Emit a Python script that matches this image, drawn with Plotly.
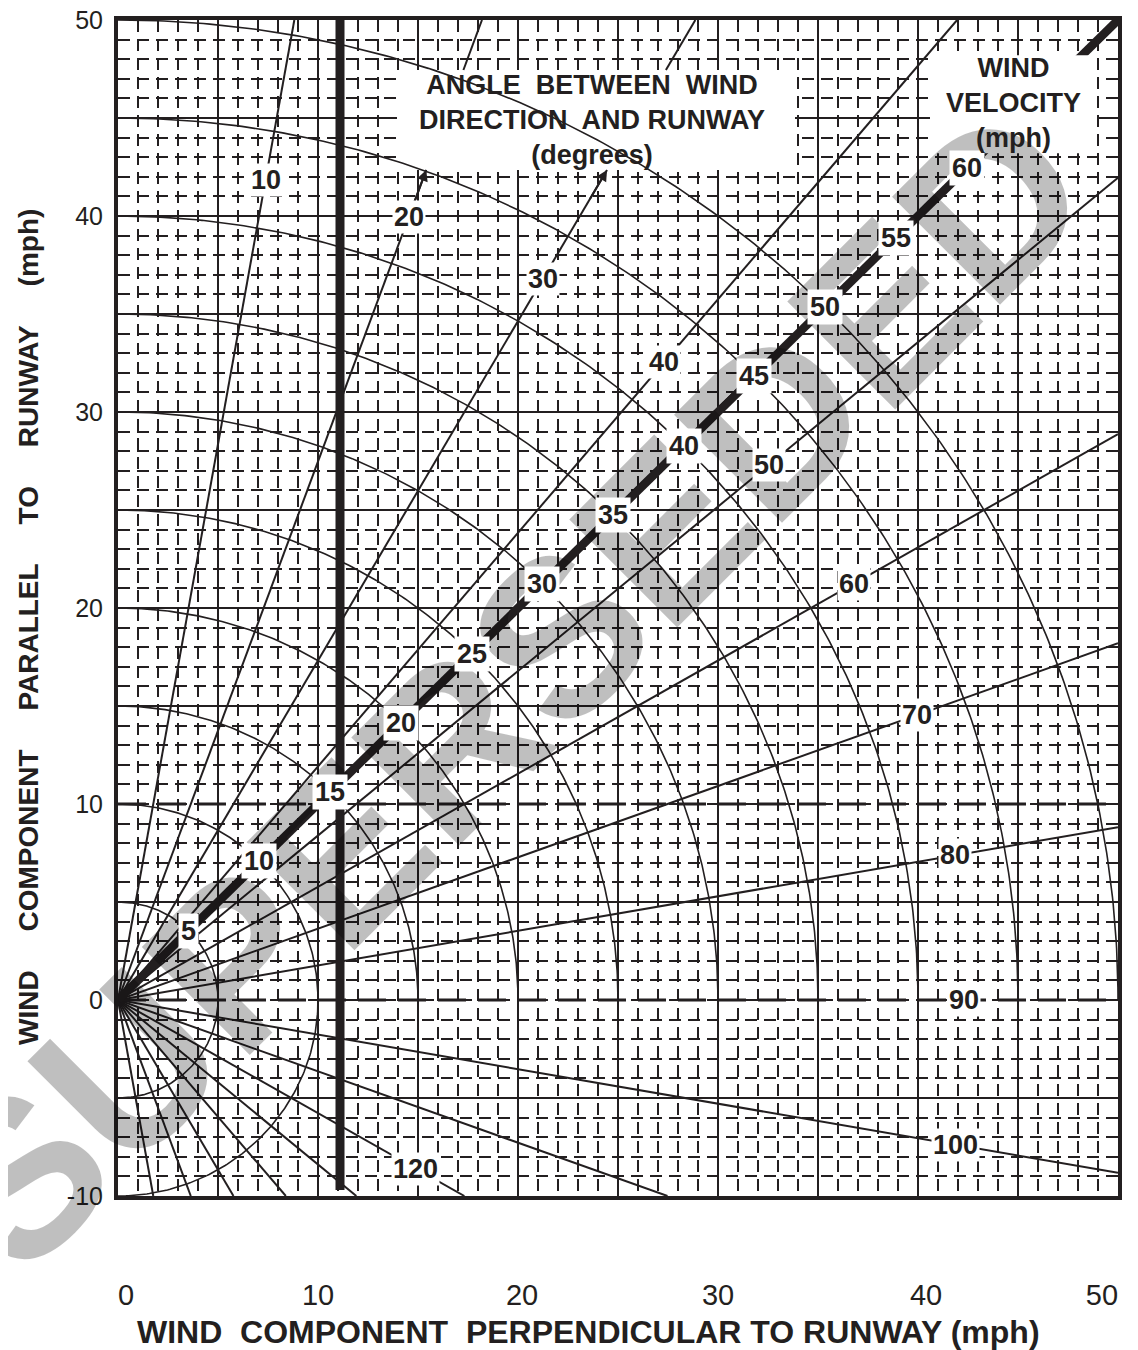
import numpy as np
import plotly.graph_objects as go

# ---------------- data ----------------
velocity_arcs = [5, 10, 15, 20, 25, 30, 35, 40, 45, 50]      # wind velocity circles (mph)
semicircle_arcs = [5, 10]                                     # circles continued below zero
ray_angles = [10, 20, 30, 40, 50, 60, 70, 80, 100, 110, 120, 130, 140, 150, 160, 170]
pointer_rays = [20, 30]                                       # rays that point at the title
angle_labels = [10, 20, 30, 40, 50, 60, 70, 80, 90, 100, 120]
angle_label_r = [42.5, 42.5, 42.5, 42.5, 42.5, 42.5, 42.5, 42.5, 42.3, 42.5, 17.2]
velocity_labels = [5, 10, 15, 20, 25, 30, 35, 40, 45, 50, 55, 60]
diagonal_deg = 45
dashed_levels = [0, 10]
limit_x = 11.1
limit_y = [-9.7, 50.0]
x_ticks = [0, 10, 20, 30, 40, 50]
y_ticks = [-10, 0, 10, 20, 30, 40, 50]
x_range = [0, 50]
y_range = [-10, 50]

# ---------------- style / layout constants ----------------
INK = "#231f20"
FONT = "Liberation Sans, Arial, Helvetica, sans-serif"
NB = "\u00a0"
angle_box = dict(x0=13.95, x1=33.85, y0=42.35, y1=47.45)
vel_box = dict(x0=40.6, x1=48.95, y0=43.2, y1=48.2)
# small horizontal nudges of x tick labels (non-breaking spaces; + shifts right, - left)
x_label_nudge = {0: 2, 20: 1, 40: 2, 50: -4}


def direction(theta_deg):
    t = np.radians(theta_deg)
    return np.sin(t), np.cos(t)


def t_to_border(dx, dy):
    ts = []
    if dx > 1e-9:
        ts.append(x_range[1] / dx)
    if dy > 1e-9:
        ts.append(y_range[1] / dy)
    if dy < -1e-9:
        ts.append(y_range[0] / dy)
    return min(ts)


def box_hit(dx, dy, box):
    tin, tout = -np.inf, np.inf
    for d, lo, hi in ((dx, box["x0"], box["x1"]), (dy, box["y0"], box["y1"])):
        if abs(d) < 1e-9:
            if lo > 0 or hi < 0:
                return None
            continue
        a, b = lo / d, hi / d
        tin, tout = max(tin, min(a, b)), min(tout, max(a, b))
    if tin < tout and tout > 0:
        return tin, tout
    return None


def nudge(label, n):
    return NB * n + label if n > 0 else label + NB * (-n)


fig = go.Figure()

# velocity arcs
ax_, ay_ = [], []
for r in velocity_arcs:
    end = 180 if r in semicircle_arcs else 90
    phi = np.radians(np.linspace(0, end, 240))
    ax_ += list(r * np.sin(phi)) + [None]
    ay_ += list(r * np.cos(phi)) + [None]
fig.add_trace(go.Scatter(x=ax_, y=ay_, mode="lines", line=dict(color=INK, width=1.6),
                         hoverinfo="skip", showlegend=False))

# angle rays
ann = []
rx, ry = [], []
for a in ray_angles:
    dx, dy = direction(a)
    tend = t_to_border(dx, dy)
    hit = box_hit(dx, dy, angle_box)
    if hit and hit[0] < tend:
        rx += [0, hit[0] * dx, None, hit[1] * dx, tend * dx, None]
        ry += [0, hit[0] * dy, None, hit[1] * dy, tend * dy, None]
        if a in pointer_rays:
            ann.append(dict(x=hit[0] * dx, y=hit[0] * dy, ax=(hit[0] - 1.8) * dx,
                            ay=(hit[0] - 1.8) * dy, xref="x", yref="y", axref="x",
                            ayref="y", text="", showarrow=True, arrowhead=2,
                            arrowsize=1.1, arrowwidth=2, arrowcolor=INK))
    else:
        rx += [0, tend * dx, None]
        ry += [0, tend * dy, None]
fig.add_trace(go.Scatter(x=rx, y=ry, mode="lines", line=dict(color=INK, width=2),
                         hoverinfo="skip", showlegend=False))

# heavy dashed reference levels (90 deg line and 10 mph)
for lvl in dashed_levels:
    fig.add_trace(go.Scatter(x=x_range, y=[lvl, lvl], mode="lines",
                             line=dict(color=INK, width=3.2, dash="28px,12px"),
                             hoverinfo="skip", showlegend=False))

# thick vertical limit line
fig.add_trace(go.Scatter(x=[limit_x, limit_x], y=limit_y, mode="lines",
                         line=dict(color=INK, width=9), hoverinfo="skip", showlegend=False))

# 45 degree wind velocity scale line
ddx, ddy = direction(diagonal_deg)
tdiag = t_to_border(ddx, ddy)
fig.add_trace(go.Scatter(x=[0, tdiag * ddx], y=[0, tdiag * ddy], mode="lines",
                         line=dict(color=INK, width=8.5), hoverinfo="skip", showlegend=False))

# dummy trace for the grid-only overlay axis
fig.add_trace(go.Scatter(x=[0], y=[0], yaxis="y2", mode="markers", marker=dict(opacity=0),
                         hoverinfo="skip", showlegend=False))

# boxes behind the titles
fig.add_shape(type="rect", xref="x", yref="y", **angle_box, fillcolor="white",
              line=dict(width=0), layer="between")
fig.add_shape(type="rect", xref="x", yref="y", **vel_box, fillcolor="white",
              line=dict(width=0), layer="above")

# watermark
ann.insert(0, dict(x=19.5, y=15.9, xref="x", yref="y", text="SUPERSEDED", showarrow=False,
                   xanchor="center", yanchor="middle",
                   textangle=-45, font=dict(family=FONT, size=222, weight="bold",
                                             color="rgba(0,0,0,0.25)")))

lab_font = dict(family=FONT, size=27, weight="bold", color=INK)
for v, r in zip(angle_labels, angle_label_r):
    dx, dy = direction(v)
    ann.append(dict(x=r * dx, y=r * dy, xref="x", yref="y", text=str(v), showarrow=False,
                    bgcolor="white", borderpad=1, font=lab_font))
for v in velocity_labels:
    ann.append(dict(x=v * ddx, y=v * ddy, xref="x", yref="y", text=str(v), showarrow=False,
                    bgcolor="white", borderpad=2, font=lab_font))

ann.append(dict(x=23.7, y=44.9, xref="x", yref="y", showarrow=False,
                xanchor="center", yanchor="middle",
                text="ANGLE  BETWEEN  WIND<br>DIRECTION  AND RUNWAY<br>(degrees)",
                font=dict(family=FONT, size=27, weight="bold", color=INK)))
ann.append(dict(x=44.75, y=45.75, xref="x", yref="y", showarrow=False,
                xanchor="center", yanchor="middle",
                text="WIND<br>VELOCITY<br>(mph)",
                font=dict(family=FONT, size=27, weight="bold", color=INK)))

ann.append(dict(x=0.47, y=-0.1156, xref="paper", yref="paper", showarrow=False,
                xanchor="center", yanchor="middle",
                text=f"WIND{NB*2}COMPONENT{NB*2}PERPENDICULAR TO RUNWAY (mph)",
                font=dict(family=FONT, size=32, weight="bold", color=INK)))
ann.append(dict(x=-0.09, y=0.4838, xref="paper", yref="paper", showarrow=False,
                xanchor="center", yanchor="middle", textangle=-90,
                text=f"WIND{NB*5}COMPONENT{NB*5}PARALLEL{NB*5}TO{NB*5}RUNWAY{NB*5}(mph)",
                font=dict(family=FONT, size=28, weight="bold", color=INK)))

x_major = list(range(x_range[0], x_range[1] + 1, 5))
x_text = [nudge(str(v), x_label_nudge.get(v, 0)) if v in x_ticks else "" for v in x_major]
y_major_grid = [v for v in range(y_range[0] + 5, y_range[1], 5) if v not in dashed_levels]

minor = dict(tickmode="linear", tick0=0, dtick=1, showgrid=True, gridcolor=INK,
             gridwidth=1.5, griddash="12px,7px", ticks="")

# the page adds an 8px body margin, so the figure is 8px smaller than the window
fig.update_layout(
    width=1130, height=1342, autosize=False,
    margin=dict(l=110, r=20, t=12, b=154, autoexpand=False),
    paper_bgcolor="white", plot_bgcolor="white", showlegend=False,
    font=dict(family=FONT, color=INK),
    annotations=ann,
    xaxis=dict(range=x_range, tickmode="array", tickvals=x_major, automargin=False,
               ticktext=x_text,
               ticks="", showgrid=True, gridcolor=INK, gridwidth=2, zeroline=False,
               showline=True, mirror=True, linecolor=INK, linewidth=4,
               tickfont=dict(family=FONT, size=29, color=INK), ticklabelstandoff=70,
               ticklabeloverflow="allow", minor=minor),
    yaxis=dict(range=y_range, tickmode="array", tickvals=y_ticks, automargin=False,
               ticktext=[str(v) for v in y_ticks], ticks="", showgrid=False,
               zeroline=False, showline=True, mirror=True, linecolor=INK, linewidth=4,
               tickfont=dict(family=FONT, size=25, color=INK), ticklabelstandoff=6,
               ticklabeloverflow="allow", minor=minor),
    yaxis2=dict(range=y_range, overlaying="y", tickmode="array", tickvals=y_major_grid,
                showticklabels=False, ticks="", showgrid=True, gridcolor=INK, gridwidth=2,
                zeroline=False, showline=False, automargin=False),
)

fig.write_html("out.html")
